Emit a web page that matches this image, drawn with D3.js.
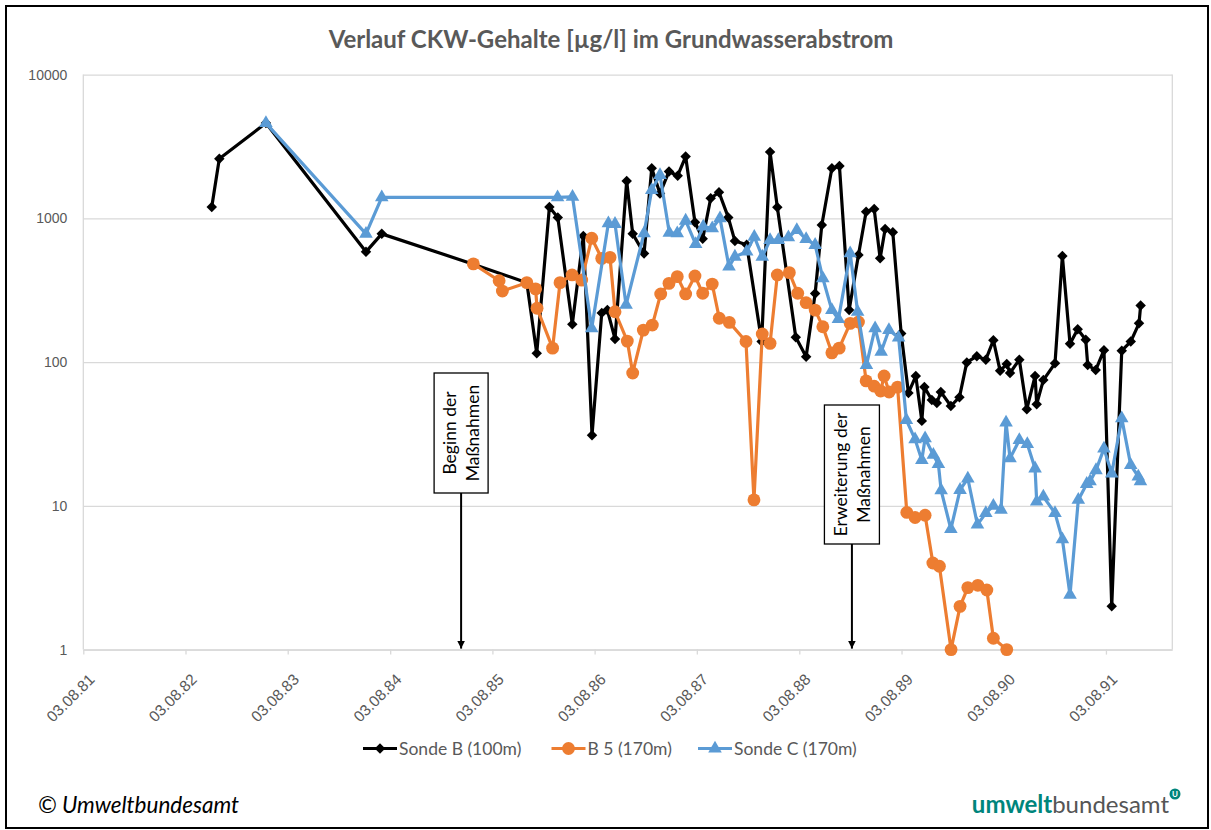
<!DOCTYPE html>
<html>
<head>
<meta charset="utf-8">
<script src="https://cdn.jsdelivr.net/npm/d3@7"></script>
<style>
  body { margin: 0; background: #fff; }
  svg { display: block; font-family: Lato, "Open Sans", sans-serif; }
</style>
</head>
<body>
<div id="chart"></div>
<script>
// Messwerte (Datum als Dezimaljahr, Werte in µg/l)
const sondeBYear = [1982.843, 1982.917, 1983.373, 1984.351, 1984.505, 1985.400, 1985.923, 1986.020, 1986.144, 1986.226,
  1986.368, 1986.476, 1986.561, 1986.656, 1986.711, 1986.786, 1986.900, 1986.959, 1987.070, 1987.145,
  1987.226, 1987.314, 1987.399, 1987.477, 1987.568, 1987.644, 1987.722, 1987.803, 1987.894, 1987.959,
  1988.074, 1988.220, 1988.302, 1988.373, 1988.553, 1988.654, 1988.742, 1988.807, 1988.905, 1988.979,
  1989.074, 1989.165, 1989.240, 1989.319, 1989.377, 1989.426, 1989.501, 1989.583, 1989.654, 1989.726,
  1989.785, 1989.810, 1989.883, 1989.932, 1989.971, 1990.069, 1990.153, 1990.225, 1990.323, 1990.411,
  1990.485, 1990.551, 1990.616, 1990.648, 1990.739, 1990.812, 1990.893, 1990.909, 1990.974, 1991.088,
  1991.160, 1991.235, 1991.310, 1991.389, 1991.408, 1991.486, 1991.567, 1991.643, 1991.741, 1991.829,
  1991.910, 1991.926];
const sondeBValue = [1200, 2600, 4600, 585, 780, 480, 357, 115, 1200, 1015,
  183, 755, 31, 220, 230, 145, 1820, 780, 570, 2230,
  1490, 2120, 1980, 2690, 940, 720, 1380, 1520, 1015, 695,
  655, 139, 2900, 1195, 149, 109, 300, 900, 2230, 2310,
  230, 555, 1110, 1160, 527, 843, 800, 158, 61, 80,
  39, 67, 54.5, 52, 62, 49.5, 57, 99.5, 110, 104,
  142, 87, 97, 84, 104, 47, 80, 51, 75, 98,
  547, 134, 169, 143, 95.5, 88, 121, 2, 120, 139,
  186, 248];

const b5Year = [1985.400, 1985.652, 1985.684, 1985.923, 1986.009, 1986.023, 1986.175, 1986.248, 1986.366, 1986.460,
  1986.558, 1986.656, 1986.737, 1986.786, 1986.906, 1986.959, 1987.063, 1987.151, 1987.233, 1987.314,
  1987.395, 1987.477, 1987.568, 1987.644, 1987.737, 1987.806, 1987.904, 1988.067, 1988.145, 1988.226,
  1988.302, 1988.373, 1988.490, 1988.572, 1988.654, 1988.742, 1988.817, 1988.905, 1988.976, 1989.084,
  1989.165, 1989.240, 1989.319, 1989.382, 1989.416, 1989.465, 1989.548, 1989.638, 1989.719, 1989.817,
  1989.893, 1989.957, 1990.071, 1990.159, 1990.235, 1990.333, 1990.421, 1990.485, 1990.616];
const b5Value = [482, 368, 312, 357, 323, 237, 125, 357, 404, 372,
  727, 527, 535, 224, 140, 84, 167, 181, 298, 353,
  393, 298, 397, 301, 349, 202, 189, 139, 11, 157,
  135, 404, 419, 301, 259, 230, 176, 116, 125, 186,
  190, 74, 68, 63, 80, 62, 67, 9, 8.3, 8.6,
  4.0, 3.8, 1, 2, 2.7, 2.8, 2.6, 1.2, 1];

const sondeCYear = [1983.373, 1984.351, 1984.505, 1986.224, 1986.370, 1986.558, 1986.721, 1986.786, 1986.894, 1987.070,
  1987.145, 1987.226, 1987.317, 1987.395, 1987.477, 1987.575, 1987.649, 1987.737, 1987.813, 1987.901,
  1987.959, 1988.074, 1988.148, 1988.226, 1988.302, 1988.383, 1988.481, 1988.563, 1988.654, 1988.742,
  1988.817, 1988.905, 1988.969, 1989.084, 1989.157, 1989.243, 1989.328, 1989.387, 1989.463, 1989.558,
  1989.634, 1989.719, 1989.785, 1989.817, 1989.898, 1989.947, 1989.974, 1990.069, 1990.159, 1990.235,
  1990.329, 1990.411, 1990.485, 1990.560, 1990.609, 1990.648, 1990.739, 1990.817, 1990.893, 1990.909,
  1990.974, 1991.088, 1991.160, 1991.235, 1991.316, 1991.398, 1991.431, 1991.489, 1991.567, 1991.643,
  1991.741, 1991.829, 1991.903, 1991.924];
const sondeCValue = [4600, 780, 1400, 1400, 1410, 172, 923, 914, 250, 787,
  1575, 2000, 794, 787, 963, 663, 875, 853, 1000, 461,
  541, 587, 745, 541, 707, 707, 738, 830, 717, 653,
  383, 230, 199, 571, 224, 95.5, 172, 118, 167, 148,
  39.5, 29, 20.8, 29.5, 22.6, 19.5, 12.8, 6.9, 12.9, 15.5,
  7.4, 8.9, 10, 9.4, 38, 21.4, 28.7, 26.9, 18.2, 10.7,
  11.6, 8.9, 5.85, 2.4, 11, 14.2, 14.8, 17.7, 25, 16.8,
  40.6, 19.2, 16, 14.8];

const seriesNames = ["Sonde B (100m)", "B 5 (170m)", "Sonde C (170m)"];
const seriesColors = ["#000000", "#ED7D31", "#5B9BD5"];
const yTicks = [1, 10, 100, 1000, 10000];
const xTickYears = [1981, 1982, 1983, 1984, 1985, 1986, 1987, 1988, 1989, 1990, 1991];
const annotationLabels = [["Beginn der", "Maßnahmen"], ["Erweiterung der", "Maßnahmen"]];
const annotationYears = [1985.280, 1989.101];

// Dezimaljahr -> Datum
function yearToDate(y) {
  const yr = Math.floor(y);
  const start = new Date(yr, 0, 1), end = new Date(yr + 1, 0, 1);
  return new Date(+start + (y - yr) * (end - start));
}

const W = 1211, H = 830;
const plot = { left: 83.3, right: 1172.3, top: 74.6, bottom: 649.6 };

const svg = d3.select("#chart").append("svg")
  .attr("width", W)
  .attr("height", H);

// Rahmen
svg.append("rect")
  .attr("x", 6).attr("y", 6)
  .attr("width", 1202).attr("height", 822)
  .attr("fill", "#fff")
  .attr("stroke", "#000")
  .attr("stroke-width", 2);

const x = d3.scaleTime()
  .domain([new Date(1981, 7, 3), yearToDate(1992.235)])
  .range([plot.left, plot.right]);
const y = d3.scaleLog()
  .domain([1, 10000])
  .range([plot.bottom, plot.top]);

// Titel
svg.append("text")
  .attr("x", 611).attr("y", 48)
  .attr("text-anchor", "middle")
  .style("font-size", "24px")
  .style("font-weight", "bold")
  .style("fill", "#595959")
  .text("Verlauf CKW-Gehalte [µg/l] im Grundwasserabstrom");

// Gitternetz + y-Achse
const yAxis = svg.append("g")
  .attr("transform", "translate(" + plot.left + ",0)")
  .call(d3.axisLeft(y).tickValues(yTicks).tickFormat(d3.format("d"))
    .tickSize(-(plot.right - plot.left)).tickPadding(16));
yAxis.select(".domain").remove();
yAxis.selectAll("line").attr("stroke", "#d9d9d9").attr("stroke-width", 1.3);
yAxis.selectAll("text").style("font-size", "14px").style("fill", "#595959");

// Plotrahmen links/rechts
svg.append("line")
  .attr("x1", plot.left).attr("x2", plot.left)
  .attr("y1", plot.top).attr("y2", plot.bottom)
  .attr("stroke", "#d9d9d9").attr("stroke-width", 1.3);
svg.append("line")
  .attr("x1", plot.right).attr("x2", plot.right)
  .attr("y1", plot.top).attr("y2", plot.bottom)
  .attr("stroke", "#d9d9d9").attr("stroke-width", 1.3);

// x-Achse
const xAxis = svg.append("g")
  .attr("transform", "translate(0," + plot.bottom + ")")
  .call(d3.axisBottom(x)
    .tickValues(xTickYears.map(yr => new Date(yr, 7, 3)))
    .tickFormat(d3.timeFormat("%d.%m.%y"))
    .tickSize(5).tickSizeOuter(0));
xAxis.select(".domain").attr("stroke", "#d9d9d9").attr("stroke-width", 1.5);
xAxis.selectAll("line").attr("stroke", "#d9d9d9").attr("stroke-width", 1.3);
xAxis.selectAll("text")
  .attr("y", 0).attr("dy", "0.35em")
  .attr("transform", "translate(8,27) rotate(-45)")
  .style("text-anchor", "end")
  .style("font-size", "15.5px")
  .style("fill", "#595959");

// Annotationen (Pfeile mit Textkasten)
const annBoxes = [{ top: 373, bottom: 493, w: 54 }, { top: 405, bottom: 544, w: 55 }];
svg.append("defs").append("marker")
  .attr("id", "arrow")
  .attr("viewBox", "0 0 10 10")
  .attr("refX", 10).attr("refY", 5)
  .attr("markerWidth", 4).attr("markerHeight", 4)
  .attr("orient", "auto")
  .append("path").attr("d", "M0,0L10,5L0,10Z").attr("fill", "#000");

annotationLabels.forEach((lines, i) => {
  const ax = x(yearToDate(annotationYears[i]));
  const b = annBoxes[i];
  const bx = ax - b.w / 2;
  svg.append("line")
    .attr("x1", ax).attr("x2", ax)
    .attr("y1", b.bottom).attr("y2", plot.bottom - 1)
    .attr("stroke", "#000").attr("stroke-width", 2)
    .attr("marker-end", "url(#arrow)");
  svg.append("rect")
    .attr("x", bx).attr("y", b.top)
    .attr("width", b.w).attr("height", b.bottom - b.top)
    .attr("fill", "#fff").attr("stroke", "#000").attr("stroke-width", 1.3);
  const cy = (b.top + b.bottom) / 2;
  const t = svg.append("text")
    .attr("transform", "translate(" + ax + "," + cy + ") rotate(-90)")
    .attr("text-anchor", "middle")
    .style("font-size", "17.5px")
    .style("fill", "#000");
  lines.forEach((ln, j) => {
    t.append("tspan").attr("x", 0).attr("y", j === 0 ? -5 : 18).text(ln);
  });
});

// Serien
const series = [
  { name: seriesNames[0], color: seriesColors[0], shape: d3.symbolDiamond2, size: 70, years: sondeBYear, values: sondeBValue },
  { name: seriesNames[1], color: seriesColors[1], shape: d3.symbolCircle, size: 130, years: b5Year, values: b5Value },
  { name: seriesNames[2], color: seriesColors[2], shape: d3.symbolTriangle, size: 80, years: sondeCYear, values: sondeCValue }
];

const line = d3.line()
  .x(d => x(d.date))
  .y(d => y(d.value));

series.forEach(s => {
  const pts = s.years.map((yr, i) => ({ date: yearToDate(yr), value: s.values[i] }));
  const g = svg.append("g");
  g.append("path")
    .datum(pts)
    .attr("d", line)
    .attr("fill", "none")
    .attr("stroke", s.color)
    .attr("stroke-width", 3.2)
    .attr("stroke-linejoin", "round");
  g.selectAll("path.pt")
    .data(pts)
    .enter().append("path")
    .attr("class", "pt")
    .attr("transform", d => "translate(" + x(d.date) + "," + y(d.value) + ")")
    .attr("d", d3.symbol().type(s.shape).size(s.size))
    .attr("fill", s.color);
});

// Legende
const legendX = [363, 551.5, 698];
const legend = svg.selectAll(".legend")
  .data(series)
  .enter().append("g")
  .attr("class", "legend")
  .attr("transform", (d, i) => "translate(" + legendX[i] + ",748.5)");
legend.append("line")
  .attr("x1", 0).attr("x2", 34)
  .attr("stroke", d => d.color)
  .attr("stroke-width", 3.2);
legend.append("path")
  .attr("transform", "translate(17,0)")
  .attr("d", d => d3.symbol().type(d.shape).size(d.size)())
  .attr("fill", d => d.color);
legend.append("text")
  .attr("x", 36).attr("dy", "0.35em")
  .style("font-size", "17.5px")
  .style("fill", "#595959")
  .text(d => d.name);

// Fußzeile
svg.append("text")
  .attr("x", 38).attr("y", 813)
  .style("font-size", "22.5px")
  .style("font-style", "italic")
  .style("fill", "#000")
  .text("© Umweltbundesamt");

const logo = svg.append("text")
  .attr("x", 1169).attr("y", 813)
  .attr("text-anchor", "end")
  .style("font-size", "24px");
logo.append("tspan").style("font-weight", "bold").style("fill", "#00857c").text("umwelt");
logo.append("tspan").style("fill", "#555").text("bundesamt");
svg.append("circle")
  .attr("cx", 1175).attr("cy", 794).attr("r", 5.5)
  .attr("fill", "#00857c");
svg.append("text")
  .attr("x", 1175).attr("y", 797)
  .attr("text-anchor", "middle")
  .style("font-size", "8px").style("font-weight", "bold")
  .style("fill", "#fff")
  .text("U");
</script>
</body>
</html>
